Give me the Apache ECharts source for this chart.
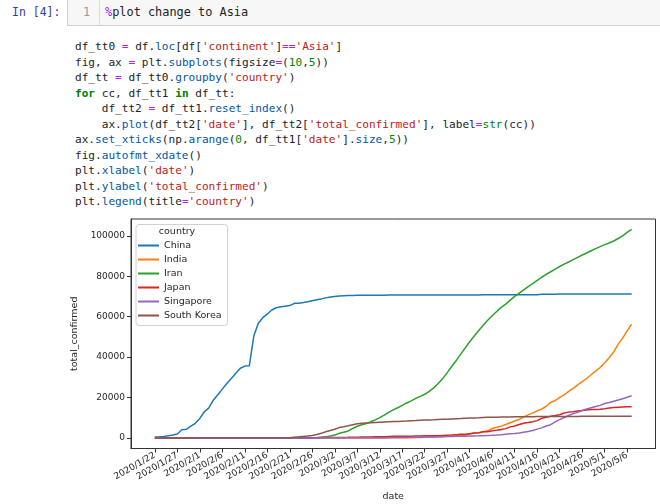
<!DOCTYPE html>
<html>
<head>
<meta charset="utf-8">
<script src="https://cdn.jsdelivr.net/npm/echarts@6/dist/echarts.min.js"></script>
<style>
  html, body { margin:0; padding:0; background:#fff; }
  #page { position:relative; width:660px; height:504px; overflow:hidden; background:#fff; }
  .prompt { position:absolute; left:12px; top:3px; font:11.5px 'DejaVu Sans Mono', monospace; color:#303F9F; line-height:18px; white-space:pre; }
  .inbox { position:absolute; left:67px; top:-1px; width:600px; height:25px; background:#f7f7f7; border:1px solid #cfcfcf; }
  .lineno { position:absolute; left:83px; top:3px; font:11.9px 'DejaVu Sans Mono', monospace; color:#999; line-height:18px; }
  .gutter { position:absolute; left:99px; top:0; width:1px; height:25px; background:#ddd; }
  .intext { position:absolute; left:105px; top:3px; font:11.9px 'DejaVu Sans Mono', monospace; color:#222; line-height:18px; white-space:pre; }
  .code { position:absolute; left:75px; top:39px; margin:0; font:11.1px 'DejaVu Sans Mono', monospace; color:#222; line-height:15.5px; white-space:pre; }
  .o { color:#AA22FF; } .s { color:#BA2121; } .n { color:#008800; }
  .k { color:#008000; font-weight:bold; } .b { color:#008000; } .p { color:#0055AA; }
  #main { position:absolute; left:0; top:0; width:660px; height:504px; pointer-events:none; }
</style>
</head>
<body>
<div id="page">
  <div class="prompt">In [4]:</div>
  <div class="inbox"></div>
  <div class="lineno">1</div>
  <div class="gutter"></div>
  <div class="intext"><span class="o">%</span>plot change to Asia</div>
<pre class="code">df_tt0 <span class="o">=</span> df.<span class="p">loc</span>[df[<span class="s">'continent'</span>]<span class="o">==</span><span class="s">'Asia'</span>]
fig, ax <span class="o">=</span> plt.<span class="p">subplots</span>(figsize<span class="o">=</span>(<span class="n">10</span>,<span class="n">5</span>))
df_tt <span class="o">=</span> df_tt0.<span class="p">groupby</span>(<span class="s">'country'</span>)
<span class="k">for</span> cc, df_tt1 <span class="k">in</span> df_tt:
    df_tt2 <span class="o">=</span> df_tt1.<span class="p">reset_index</span>()
    ax.<span class="p">plot</span>(df_tt2[<span class="s">'date'</span>], df_tt2[<span class="s">'total_confirmed'</span>], label<span class="o">=</span><span class="b">str</span>(cc))
ax.<span class="p">set_xticks</span>(np.<span class="p">arange</span>(<span class="n">0</span>, df_tt1[<span class="s">'date'</span>].<span class="p">size</span>,<span class="n">5</span>))
fig.<span class="p">autofmt_xdate</span>()
plt.<span class="p">xlabel</span>(<span class="s">'date'</span>)
plt.<span class="p">ylabel</span>(<span class="s">'total_confirmed'</span>)
plt.<span class="p">legend</span>(title<span class="o">=</span><span class="s">'country'</span>)</pre>
  <div id="main"></div>
</div>
<script>
// day index 0 = 2020/1/22, one value per day up to 2020/5/7
var xTickDays = [0,5,10,15,20,25,30,35,40,45,50,55,60,65,70,75,80,85,90,95,100,105];
var xTickLabels = ['2020/1/22','2020/1/27','2020/2/1','2020/2/6','2020/2/11','2020/2/16','2020/2/21','2020/2/26',
  '2020/3/2','2020/3/7','2020/3/12','2020/3/17','2020/3/22','2020/3/27','2020/4/1','2020/4/6','2020/4/11',
  '2020/4/16','2020/4/21','2020/4/26','2020/5/1','2020/5/6'];
var yTicks = [0,20000,40000,60000,80000,100000];
var countries = ['China','India','Iran','Japan','Singapore','South Korea'];
var colors = ['#1f77b4','#ff7f0e','#2ca02c','#d62728','#9467bd','#8c564b'];

var china = [550,640,800,1100,1500,2000,4100,4300,5900,7300,
  9700,13000,14900,18700,21400,24200,27000,29400,32000,34500,
  35600,35700,50400,56800,59500,61300,63300,64400,64900,65200,
  65500,66600,66700,67000,67400,67900,68400,68800,69300,69700,
  70000,70200,70350,70450,70500,70550,70580,70600,70620,70640,
  70650,70660,70670,70680,70690,70700,70710,70715,70720,70725,
  70730,70735,70740,70745,70750,70755,70760,70765,70770,70775,
  70780,70782,70784,70786,70788,70790,70792,70794,70796,70798,
  70800,70802,70804,70806,70808,70810,71130,71140,71150,71155,
  71160,71165,71170,71172,71174,71176,71178,71180,71182,71184,
  71186,71188,71190,71192,71194,71196,71198];
var india = [0,0,0,0,0,0,0,0,1,1,
  1,2,3,3,3,3,3,3,3,3,
  3,3,3,3,3,3,3,3,3,3,
  3,3,3,3,3,3,3,3,3,3,
  5,5,28,30,31,34,39,43,56,62,
  73,82,102,113,119,142,156,194,244,330,
  396,499,536,657,727,887,987,1024,1251,1397,
  1998,2543,2567,3082,3588,4778,5311,5916,6725,7598,
  8446,9205,10453,11487,12322,13430,14352,15722,17615,18539,
  20080,21370,23077,24530,26283,27890,29451,31324,33062,34863,
  37257,39699,42505,46437,49400,52987,56351];
var iran = [0,0,0,0,0,0,0,0,0,0,
  0,0,0,0,0,0,0,0,0,0,
  0,0,0,0,0,0,0,0,2,5,
  18,28,43,61,95,139,245,388,593,978,
  1501,2336,2922,3513,4747,5823,6566,7161,8042,9000,
  10075,11364,12729,13938,14991,16169,17361,18407,19644,20610,
  21638,23049,24811,27017,29406,32332,35408,38309,41495,44605,
  47593,50468,53183,55743,58226,60500,62589,64586,66220,68192,
  70029,71686,73303,74877,76389,77995,79494,80868,82211,83505,
  84802,85996,87026,88194,89328,90481,91472,92584,93657,94640,
  95646,96448,97424,98647,99970,101650,103135];
var japan = [2,2,2,2,4,4,7,7,11,15,
  20,20,20,22,22,25,25,25,26,26,
  26,28,28,29,43,59,66,74,84,94,
  105,122,147,159,170,189,214,228,241,256,
  274,293,331,360,420,461,502,511,581,639,
  639,701,773,839,839,878,889,924,963,1007,
  1086,1086,1128,1193,1307,1387,1468,1693,1866,1866,
  2178,2495,2617,3139,3139,3654,3906,4257,4667,5530,
  6005,6748,7370,7645,8100,8626,9787,10296,10797,11135,
  11512,12368,12829,13031,13385,13576,13852,14088,14088,14281,
  14544,14839,15057,15231,15354,15463,15477];
var singapore = [0,1,3,3,4,5,7,7,10,13,
  16,18,18,24,28,28,30,33,40,45,
  47,50,58,67,72,75,77,81,84,84,
  85,85,89,89,91,93,93,93,102,106,
  108,110,110,117,130,138,150,150,160,178,
  178,200,212,226,243,266,313,345,385,432,
  455,509,558,631,683,732,802,844,879,926,
  1000,1049,1114,1189,1309,1375,1481,1623,1910,2108,
  2299,2532,2918,3252,3699,4427,5050,5992,6588,8014,
  9125,10141,11178,12075,12693,13624,14423,14951,15641,16169,
  17101,17548,18205,18778,19410,20198,20939];
var korea = [1,1,2,2,3,4,4,4,4,11,
  12,15,15,16,19,23,24,24,25,27,
  28,28,28,28,28,29,30,31,51,104,
  204,433,602,833,977,1261,1766,2337,3150,3736,
  4335,5186,5621,6088,6593,7041,7314,7478,7513,7755,
  7869,7979,8086,8162,8236,8320,8413,8565,8652,8799,
  8897,8961,9037,9137,9241,9332,9478,9583,9661,9786,
  9887,9976,10062,10156,10237,10284,10331,10384,10423,10450,
  10480,10512,10537,10564,10591,10613,10635,10653,10661,10674,
  10683,10694,10702,10708,10718,10728,10738,10752,10761,10765,
  10774,10780,10793,10801,10804,10806,10810];

var allSeries = [china, india, iran, japan, singapore, korea];
var font = 'DejaVu Sans';

var myChart = echarts.init(document.getElementById('main'), null, {renderer:'canvas'});
var option = {
  animation: false,
  backgroundColor: 'transparent',
  textStyle: {fontFamily: font},
  grid: {
    left: 131, top: 219, width: 524.5, height: 229.5,
    show: true, borderColor: '#333', borderWidth: 1, backgroundColor: '#fff'
  },
  legend: {
    data: countries,
    orient: 'vertical',
    left: 136, top: 224.5,
    padding: [14, 6, 3, 2],
    itemWidth: 21, itemHeight: 2, itemGap: 0,
    icon: 'rect',
    textStyle: {fontFamily: font, fontSize: 9.5, color: '#262626', lineHeight: 14},
    backgroundColor: 'rgba(255,255,255,0.85)',
    borderColor: '#d0d0d0', borderWidth: 1, borderRadius: 3
  },
  graphic: [{
    type: 'text', x: 177, y: 232, z: 100,
    style: {text: 'country', font: '9.5px DejaVu Sans', fill: '#262626', align: 'center', verticalAlign: 'middle'}
  }],
  xAxis: {
    type: 'value', min: -5.3, max: 111.3,
    name: 'date', nameLocation: 'middle', nameGap: 43,
    nameTextStyle: {fontFamily: font, fontSize: 9.5, color: '#262626'},
    splitLine: {show: false},
    axisLine: {show: true, onZero: false, lineStyle: {color: '#333'}},
    axisTick: {show: true, customValues: xTickDays, length: 4, lineStyle: {color: '#333'}},
    axisLabel: {
      customValues: xTickDays, rotate: 30, margin: 6,
      fontFamily: font, fontSize: 9, color: '#262626',
      formatter: function(v){
        var i = xTickDays.indexOf(Math.round(v));
        return i >= 0 ? xTickLabels[i] : '';
      }
    }
  },
  yAxis: {
    type: 'value', min: -5157, max: 108292,
    name: 'total_confirmed', nameLocation: 'middle', nameGap: 36, nameRotate: 90,
    nameTextStyle: {fontFamily: font, fontSize: 9.5, color: '#262626'},
    splitLine: {show: false},
    axisLine: {show: true, onZero: false, lineStyle: {color: '#333'}},
    axisTick: {show: true, customValues: yTicks, length: 4, lineStyle: {color: '#333'}},
    axisLabel: {
      customValues: yTicks, margin: 6, fontFamily: font, fontSize: 9, color: '#262626',
      formatter: function(v){ return String(Math.round(v)); }
    }
  },
  series: countries.map(function(name, k){
    return {
      name: name,
      type: 'line',
      showSymbol: false,
      color: colors[k],
      lineStyle: {width: 1.5, color: colors[k]},
      data: allSeries[k].map(function(v, i){ return [i, v]; })
    };
  })
};
myChart.setOption(option);
</script>
</body>
</html>
